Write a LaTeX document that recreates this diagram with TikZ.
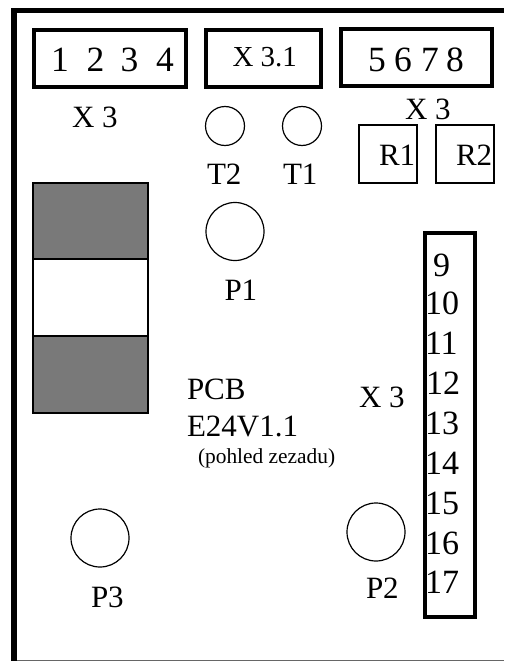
\documentclass[tikz,border=0pt]{standalone}
\usepackage{fontspec}
\setmainfont{Liberation Serif}
\newcommand{\fs}[1]{\fontsize{#1}{#1}\selectfont}
\tikzset{
  x=1pt,y=-1pt,
  conn/.style={draw=black,line width=4pt,fill=white,miter limit=10},
  thinbox/.style={draw=black,line width=1.2pt,fill=white},
  ring/.style={draw=black,line width=1.2pt,fill=white},
  lab/.style={anchor=base west,inner sep=0pt,outer sep=0pt,text=black,font=\fs{31}},
  big/.style={lab,font=\fs{35.5}},
  strip/.style={lab,font=\fs{34}},
  small/.style={lab,font=\fs{21.4}}
}
\begin{document}
\begin{tikzpicture}
\useasboundingbox (0,0) rectangle (504,661);
\fill[white] (0,0) rectangle (504,661);
\fill[black] (11,8) rectangle (504,13);
\fill[black] (11,8) rectangle (17,661);
\draw[gray!80!black,line width=0.8pt] (17,660) -- (504,660);
\draw[conn] (34,30) rectangle (186,87);
\draw[conn] (206,30) rectangle (321,87);
\draw[conn] (341,29) rectangle (492,86);
\draw[conn] (425,233) rectangle (475,617);
\draw[thinbox,fill=gray!95!black] (33,183) rectangle (148,259);
\draw[thinbox] (33,259) rectangle (148,336);
\draw[thinbox,fill=gray!95!black] (33,336) rectangle (148,413);
\draw[thinbox] (359,125) rectangle (417,183);
\draw[thinbox] (436,125) rectangle (494,183);
\draw[ring] (225,126) circle (19.5);
\draw[ring] (302,126) circle (19.5);
\draw[ring] (235,231.5) circle (29);
\draw[ring] (100,538) circle (29);
\draw[ring] (376,532) circle (29);
\node[big] (n1) at (51,71.5) {1};
\node[big] (n2) at (86.5,71.5) {2};
\node[big] (n3) at (120.5,71.5) {3};
\node[big] (n4) at (156,71.5) {4};
\node[big] (n5) at (368,71.5) {5};
\node[big] (n6) at (394,71.5) {6};
\node[big] (n7) at (421,71.5) {7};
\node[big] (n8) at (446,71.5) {8};
\node[lab] (x3a) at (72,127) {X 3};
\node[lab,font=\fs{29}] (x31) at (232.5,66.5) {X 3.1};
\node[lab] (x3b) at (405,119) {X 3};
\node[lab] (x3c) at (359,407) {X 3};
\node[lab] (t2) at (207,184) {T2};
\node[lab] (t1) at (283,184) {T1};
\node[lab] (r1) at (379,165) {R1};
\node[lab] (r2) at (456,165) {R2};
\node[lab] (p1) at (224.5,300) {P1};
\node[lab] (p2) at (366,598) {P2};
\node[lab] (p3) at (91,607) {P3};
\node[lab] (pcb) at (187,399) {PCB};
\node[lab] (e24) at (187,436) {E24V1.1};
\node[small] (poh) at (198,463) {(pohled zezadu)};
\node[strip] (k9) at (433,276) {9};
\node[strip] (k10) at (425,314) {10};
\node[strip] (k11) at (425,354) {11};
\node[strip] (k12) at (426,394) {12};
\node[strip] (k13) at (425,434) {13};
\node[strip] (k14) at (425,474) {14};
\node[strip] (k15) at (425,514) {15};
\node[strip] (k16) at (425,554) {16};
\node[strip] (k17) at (425,593) {17};
\end{tikzpicture}
\end{document}
